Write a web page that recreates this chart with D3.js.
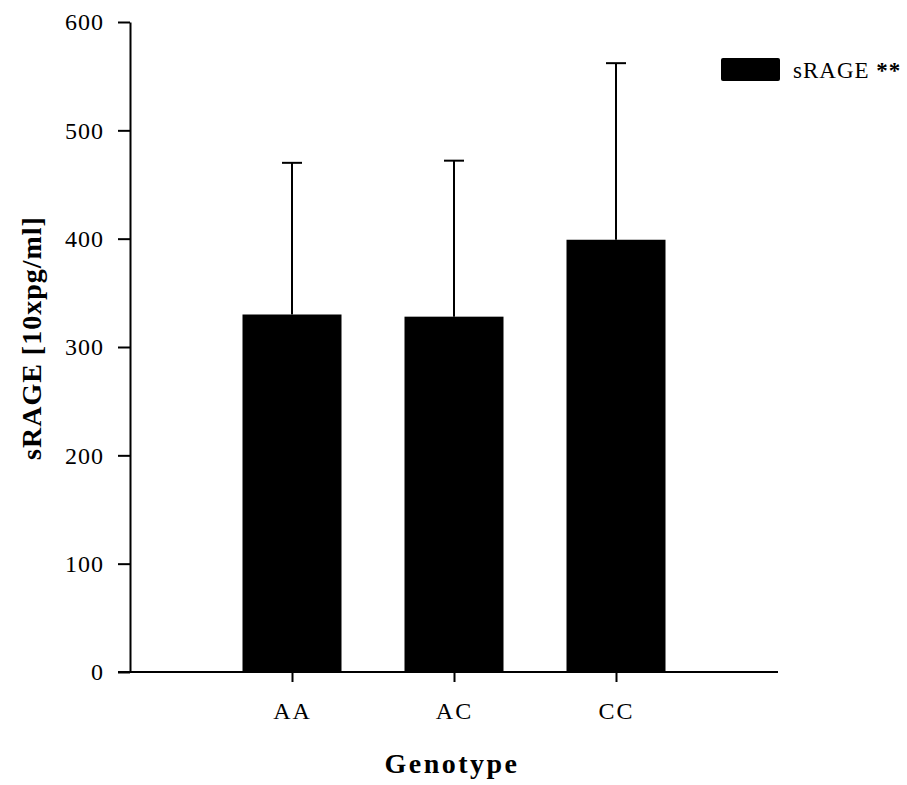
<!DOCTYPE html>
<html><head><meta charset="utf-8">
<script src="https://cdn.jsdelivr.net/npm/d3@7"></script>
<style>body{margin:0;background:#fff}</style>
</head><body>
<svg id="c" width="907" height="785"></svg>
<script>
const categories = ["AA", "AC", "CC"];
const means = [330, 328, 399];
const errUpper = [470, 472, 562];
const yTicks = [0, 100, 200, 300, 400, 500, 600];
const seriesName = "sRAGE";

const svg = d3.select("#c");
const font = "'Liberation Serif', 'Times New Roman', serif";
const x0 = 130, x1 = 778, yTop = 22, yBot = 672;

const x = d3.scalePoint().domain(["_l", ...categories, "_r"]).range([x0, x1]);
const y = d3.scaleLinear().domain([0, 600]).range([yBot, yTop]);
const barW = 99, capW = 20;

const g = svg.append("g");
g.selectAll("rect.bar").data(categories).join("rect")
  .attr("x", d => x(d) - barW/2).attr("width", barW)
  .attr("y", (d,i) => y(means[i])).attr("height", (d,i) => yBot - y(means[i]))
  .attr("fill", "#000");
g.selectAll("line.err").data(categories).join("line")
  .attr("x1", d => x(d)).attr("x2", d => x(d))
  .attr("y1", (d,i) => y(means[i])).attr("y2", (d,i) => y(errUpper[i]))
  .attr("stroke", "#000").attr("stroke-width", 2);
g.selectAll("line.cap").data(categories).join("line")
  .attr("x1", d => x(d) - capW/2).attr("x2", d => x(d) + capW/2)
  .attr("y1", (d,i) => y(errUpper[i])).attr("y2", (d,i) => y(errUpper[i]))
  .attr("stroke", "#000").attr("stroke-width", 2);

// y axis
const ya = svg.append("g").attr("transform", `translate(${x0},0)`)
  .call(d3.axisLeft(y).tickValues(yTicks).tickSize(12).tickPadding(14).tickSizeOuter(0));
ya.select(".domain").attr("stroke-width", 2);
ya.selectAll(".tick line").attr("stroke-width", 2);
ya.selectAll("text").attr("font-family", font).attr("font-size", 24).attr("letter-spacing", 1).attr("fill", "#000");

// x axis
const xa = svg.append("g").attr("transform", `translate(0,${yBot})`)
  .call(d3.axisBottom(x).tickValues(categories).tickSize(10).tickPadding(14).tickSizeOuter(0));
xa.select(".domain").attr("stroke-width", 2).attr("d", `M${x0-12},0H${x1}`);
xa.selectAll(".tick line").attr("stroke-width", 2);
xa.selectAll("text").attr("font-family", font).attr("font-size", 24).attr("letter-spacing", 2).attr("fill", "#000")
  .attr("dy", "0.95em");

// axis titles
svg.append("text").attr("x", 452).attr("y", 773).attr("text-anchor", "middle")
  .attr("font-family", font).attr("font-weight", "bold").attr("font-size", 28).attr("letter-spacing", 2.5).text("Genotype");
svg.append("text").attr("transform", "translate(41,338) rotate(-90)").attr("text-anchor", "middle")
  .attr("font-family", font).attr("font-weight", "bold").attr("font-size", 28).attr("letter-spacing", 1).text("sRAGE [10xpg/ml]");

// legend
svg.append("rect").attr("x", 721).attr("y", 58).attr("width", 59).attr("height", 23).attr("rx", 2).attr("fill", "#000");
const lt = svg.append("text").attr("x", 793).attr("y", 78).attr("font-family", font).attr("font-size", 23).attr("letter-spacing", 1);
lt.append("tspan").text(seriesName + " ");
lt.append("tspan").attr("font-weight", "bold").text("**");
</script>
</body></html>
